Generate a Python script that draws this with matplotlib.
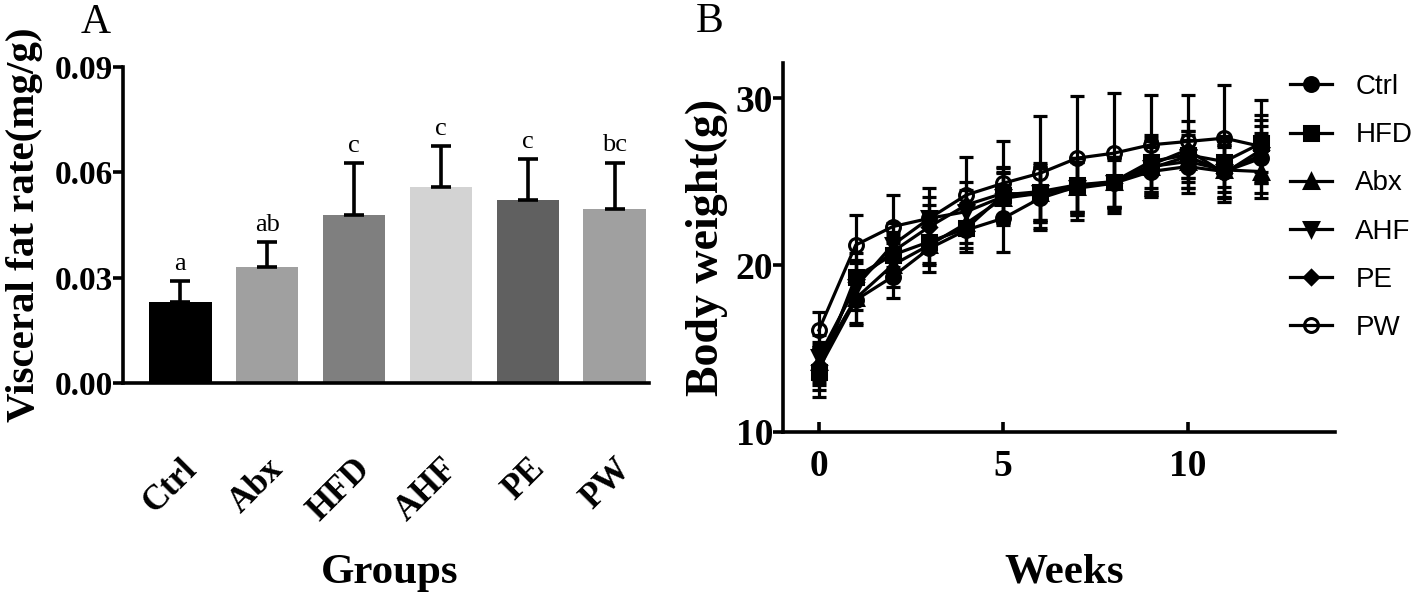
import matplotlib
matplotlib.use("Agg")
import matplotlib.pyplot as plt
import numpy as np

plt.rcParams['font.family'] = ['Liberation Serif', 'DejaVu Serif']

# Panel A: Viszeralfett
groups = ['Ctrl', 'Abx', 'HFD', 'AHF', 'PE', 'PW']
fat_mean = [0.0231, 0.0329, 0.0477, 0.0557, 0.0520, 0.0496]
fat_sd = [0.0058, 0.0071, 0.0149, 0.0117, 0.0118, 0.0131]
fat_letters = ['a', 'ab', 'c', 'c', 'c', 'bc']
bar_colors = ['#000000', '#a0a0a0', '#7f7f7f', '#d3d3d3', '#606060', '#a0a0a0']

# Panel B: Körpergewicht
weeks = list(range(13))
series_names = ['Ctrl', 'HFD', 'Abx', 'AHF', 'PE', 'PW']
series_markers = ['o', 's', '^', 'v', 'D', 'o']
bw_ctrl = [13.8, 17.9, 19.3, 21.0, 22.1, 22.8, 24.0, 24.7, 24.9, 25.6, 25.9, 25.6, 26.4]
bw_hfd = [13.6, 19.3, 20.6, 21.4, 22.2, 24.2, 24.4, 24.8, 25.0, 26.2, 26.6, 26.2, 27.3]
bw_abx = [14.2, 18.0, 20.0, 21.2, 22.5, 24.0, 24.3, 24.7, 25.0, 25.9, 26.2, 25.7, 25.6]
bw_ahf = [14.5, 18.7, 21.2, 22.8, 23.2, 24.1, 24.3, 24.6, 24.9, 25.8, 26.5, 25.6, 26.6]
bw_pe = [14.0, 19.0, 20.8, 22.3, 23.6, 24.3, 24.2, 24.8, 24.9, 26.0, 26.9, 25.5, 26.9]
bw_pw = [16.1, 21.2, 22.3, 22.8, 24.2, 24.9, 25.5, 26.4, 26.7, 27.2, 27.4, 27.6, 27.1]
sd_ctrl = [1.3, 1.5, 1.3, 1.4, 1.3, 2.0, 1.8, 1.5, 1.4, 1.5, 1.6, 1.5, 1.5]
sd_hfd = [1.5, 1.4, 1.2, 1.3, 1.2, 1.6, 1.7, 1.6, 1.5, 1.6, 1.4, 1.5, 1.7]
sd_abx = [1.2, 1.5, 1.3, 1.2, 1.2, 1.5, 1.6, 1.7, 1.5, 1.5, 1.6, 1.7, 1.6]
sd_ahf = [1.3, 1.4, 1.3, 1.3, 1.3, 1.5, 1.7, 1.6, 1.6, 1.6, 1.5, 1.6, 1.7]
sd_pe = [1.2, 1.3, 1.2, 1.3, 1.4, 1.6, 1.6, 1.6, 1.5, 1.6, 1.7, 1.7, 1.8]
sd_pw = [1.1, 1.8, 1.9, 1.8, 2.3, 2.5, 3.4, 3.7, 3.6, 3.0, 2.8, 3.2, 2.8]
bw_all = [bw_ctrl, bw_hfd, bw_abx, bw_ahf, bw_pe, bw_pw]
sd_all = [sd_ctrl, sd_hfd, sd_abx, sd_ahf, sd_pe, sd_pw]

fig = plt.figure(figsize=(14.18, 6.02), dpi=100)

# --- A ---
ax1 = fig.add_axes([0.0867, 0.364, 0.3713, 0.525])
x = np.arange(len(groups))
ax1.bar(x, fat_mean, width=0.72, color=bar_colors, zorder=2)
ax1.errorbar(x, fat_mean, yerr=[np.zeros(len(x)), fat_sd], fmt='none',
             ecolor='black', elinewidth=2.6, capsize=7.5, capthick=2.6, zorder=3)
for xi, m, s, t in zip(x, fat_mean, fat_sd, fat_letters):
    ax1.text(xi, m + s + 0.0018, t, ha='center', va='bottom', fontsize=19)
ax1.set_xlim(-0.66, 5.4)
ax1.set_ylim(0, 0.09)
ax1.set_yticks([0, 0.03, 0.06, 0.09])
ax1.set_yticklabels(['0.00', '0.03', '0.06', '0.09'])
ax1.set_xticks(x)
ax1.set_xticklabels(groups, rotation=45, ha='right', va='top', rotation_mode='anchor')
for sp in ['top', 'right']:
    ax1.spines[sp].set_visible(False)
for sp in ['left', 'bottom']:
    ax1.spines[sp].set_linewidth(2.6)
ax1.tick_params(axis='y', direction='out', length=7, width=2.6, labelsize=24, pad=0)
ax1.tick_params(axis='x', direction='in', length=6, width=2.6, labelsize=25, pad=50)
for lab in ax1.get_xticklabels() + ax1.get_yticklabels():
    lab.set_fontweight('bold')
ax1.set_ylabel('Visceral fat rate(mg/g)', fontsize=29.5, fontweight='bold')
ax1.yaxis.set_label_coords(-0.152, 0.5)
ax1.set_xlabel('Groups', fontsize=31, fontweight='bold')
ax1.xaxis.set_label_coords(0.507, -0.54)
fig.text(0.057, 0.962, 'A', fontsize=30, va='center', ha='left')

# --- B ---
ax2 = fig.add_axes([0.552, 0.2824, 0.3895, 0.6129])
for name, mk, y, s in zip(series_names, series_markers, bw_all, sd_all):
    face = 'none' if name == 'PW' else 'black'
    ms = 7 if mk == 'D' else 10
    ax2.errorbar(weeks, y, yerr=s, fmt='none', ecolor='black',
                 elinewidth=2.3, capsize=5, capthick=2.3)
    ax2.plot(weeks, y, color='black', marker=mk, markersize=ms,
             markerfacecolor=face, markeredgecolor='black', markeredgewidth=2.2,
             linewidth=2.3, label=name)
ax2.set_xlim(-0.98, 14)
ax2.set_ylim(10, 32.1)
ax2.set_xticks([0, 5, 10])
ax2.set_yticks([10, 20, 30])
for sp in ['top', 'right']:
    ax2.spines[sp].set_visible(False)
for sp in ['left', 'bottom']:
    ax2.spines[sp].set_linewidth(2.6)
ax2.tick_params(axis='y', direction='out', length=7, width=2.6, labelsize=27, pad=0)
ax2.tick_params(axis='x', direction='in', length=7, width=2.6, labelsize=27, pad=12)
for lab in ax2.get_xticklabels() + ax2.get_yticklabels():
    lab.set_fontweight('bold')
ax2.set_ylabel('Body weight(g)', fontsize=33, fontweight='bold')
ax2.yaxis.set_label_coords(-0.10, 0.5)
ax2.set_xlabel('Weeks', fontsize=31, fontweight='bold')
ax2.xaxis.set_label_coords(0.51, -0.33)
ax2.legend(loc='upper left', bbox_to_anchor=(1290 / 1418, 1 - 74 / 602),
           bbox_transform=fig.transFigure, frameon=False,
           prop={'family': 'Liberation Sans', 'size': 20}, handlelength=1.5,
           labelspacing=0.8, handletextpad=0.85, borderaxespad=0, borderpad=0)
fig.text(0.491, 0.964, 'B', fontsize=30, va='center', ha='left')

fig.savefig('out.png', dpi=100)
